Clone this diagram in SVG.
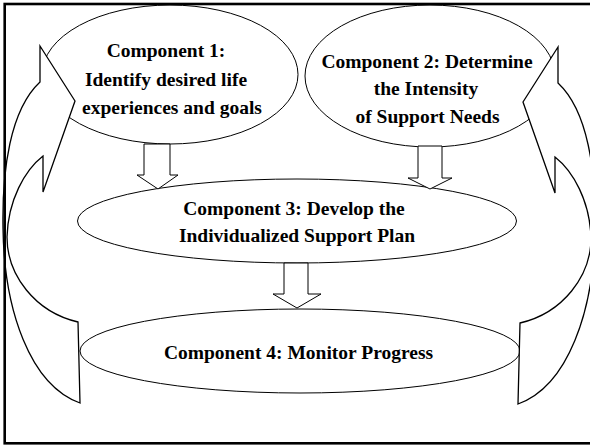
<svg xmlns="http://www.w3.org/2000/svg" width="590" height="446" viewBox="0 0 590 446">
  <style>
    .node { fill: #ffffff; stroke: #000000; stroke-width: 1; }
    .lbl { font-family: "Liberation Serif", "Times New Roman", serif; font-weight: bold; font-size: 19.5px; fill: #000000; text-anchor: middle; }
    .blk { fill: #ffffff; stroke: #000000; stroke-width: 1; stroke-linejoin: miter; }
    .curv { fill: #ffffff; stroke: #000000; stroke-width: 1.3; stroke-linejoin: miter; }
  </style>
  <defs>
    <path id="curvedArrow" d="M40,46 L75,101 L43,192 L43,156 C25,170 8,200 7,237 C7,275 35,312 78,322 L80,403 C30,385 4,310 3,228 C2,170 10,110 40,82 Z"/>
  </defs>
  <rect x="0" y="0" width="590" height="446" fill="#ffffff"/>

  <g id="comp1">
    <ellipse class="node" cx="170" cy="74.5" rx="128" ry="69.5"/>
    <text class="lbl" x="166" y="57">Component 1:</text>
    <text class="lbl" x="166" y="86">Identify desired life</text>
    <text class="lbl" x="172" y="114">experiences and goals</text>
  </g>

  <g id="comp2">
    <ellipse class="node" cx="430" cy="76" rx="125" ry="71"/>
    <text class="lbl" x="427" y="68">Component 2: Determine</text>
    <text class="lbl" x="426" y="95">the Intensity</text>
    <text class="lbl" x="427.5" y="123">of Support Needs</text>
  </g>

  <g id="comp3">
    <ellipse class="node" cx="297" cy="221" rx="219.5" ry="42"/>
    <text class="lbl" x="294" y="215">Component 3: Develop the</text>
    <text class="lbl" x="297" y="242">Individualized Support Plan</text>
  </g>

  <g id="comp4">
    <ellipse class="node" cx="300" cy="351" rx="220" ry="42"/>
    <text class="lbl" x="298.5" y="359">Component 4: Monitor Progress</text>
  </g>

  <g id="connectors">
    <polygon class="blk" points="144,144 170,144 170,175 178,175 158,189 137,175 144,175"/>
    <polygon class="blk" points="418,146 442,146 442,178 452,178 430,189 408,178 418,178"/>
    <polygon class="blk" points="284,263 308,263 308,294 321,294 297,308 273,294 284,294"/>
    <use href="#curvedArrow" class="curv"/>
    <use href="#curvedArrow" class="curv" transform="translate(598,1) scale(-1,1)"/>
  </g>

  <rect x="4.7" y="4" width="600" height="439.3" fill="none" stroke="#000000" stroke-width="2.6"/>
</svg>
